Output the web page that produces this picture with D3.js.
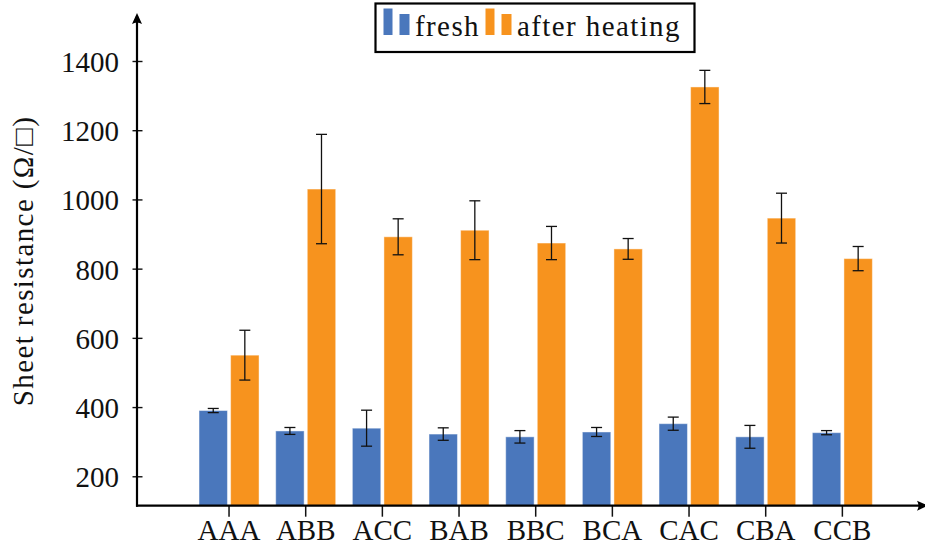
<!DOCTYPE html>
<html>
<head>
<meta charset="utf-8">
<script src="https://cdn.jsdelivr.net/npm/d3@7"></script>
<style>
  html, body { margin: 0; padding: 0; background: #ffffff; }
  svg { display: block; }
  text { font-family: "Liberation Serif", "DejaVu Serif", serif; fill: #111; }
</style>
</head>
<body>
<script>
// ---- data ----
const categories = ["AAA", "ABB", "ACC", "BAB", "BBC", "BCA", "CAC", "CBA", "CCB"];
const seriesNames = ["fresh", "after heating"];
const freshValues = [390, 331, 339, 322, 314, 328, 352, 314, 326];
const freshErrors = [6, 10, 52, 18, 18, 13, 19, 33, 6];
const heatedValues = [550, 1030, 892, 911, 874, 857, 1325, 946, 829];
const heatedErrors = [72, 158, 52, 85, 48, 30, 48, 72, 35];
const yTickValues = [200, 400, 600, 800, 1000, 1200, 1400];
const yLabel = "Sheet resistance (\u03A9/\u25A1)";

const W = 925, H = 559;
const colors = ["#4a77bc", "#f7931e"];

const svg = d3.select("body").append("svg").attr("width", W).attr("height", H);

const axisX = 137;       // y axis position
const axisY = 505.7;     // x axis position

const y = d3.scaleLinear().domain([115, 1400]).range([axisY, 61]);
const x = d3.scaleBand().domain(categories).range([190.7, 880.7]).padding(0);
const xs = d3.scaleBand().domain([0, 1]).range([-30, 30]).paddingInner(0.1);

const rows = categories.map((c, i) => ({
  cat: c,
  vals: [
    { s: 0, v: freshValues[i], e: freshErrors[i] },
    { s: 1, v: heatedValues[i], e: heatedErrors[i] }
  ]
}));

// bars
const groups = svg.append("g").selectAll("g").data(rows).join("g")
  .attr("transform", d => `translate(${x(d.cat) + x.bandwidth() / 2},0)`);

groups.selectAll("rect").data(d => d.vals).join("rect")
  .attr("x", d => xs(d.s))
  .attr("width", xs.bandwidth())
  .attr("y", d => y(d.v))
  .attr("height", d => axisY - y(d.v))
  .attr("fill", d => colors[d.s])
  .attr("stroke", "rgba(255,255,255,0.45)")
  .attr("stroke-width", 1);

// error bars
const eb = groups.selectAll("g.err").data(d => d.vals).join("g").attr("class", "err")
  .attr("stroke", "#111").attr("stroke-width", 1.3);
eb.append("line")
  .attr("x1", d => xs(d.s) + xs.bandwidth() / 2).attr("x2", d => xs(d.s) + xs.bandwidth() / 2)
  .attr("y1", d => y(d.v + d.e)).attr("y2", d => y(d.v - d.e));
eb.append("line")
  .attr("x1", d => xs(d.s) + xs.bandwidth() / 2 - 5.5).attr("x2", d => xs(d.s) + xs.bandwidth() / 2 + 5.5)
  .attr("y1", d => y(d.v + d.e)).attr("y2", d => y(d.v + d.e));
eb.append("line")
  .attr("x1", d => xs(d.s) + xs.bandwidth() / 2 - 5.5).attr("x2", d => xs(d.s) + xs.bandwidth() / 2 + 5.5)
  .attr("y1", d => y(d.v - d.e)).attr("y2", d => y(d.v - d.e));

// y axis
const yAxis = svg.append("g").attr("transform", `translate(${axisX},0)`)
  .call(d3.axisLeft(y).tickValues(yTickValues).tickSize(0).tickPadding(18).tickFormat(d3.format("d")));
yAxis.select(".domain").remove();
yAxis.selectAll("text").attr("font-size", 29).attr("font-family", "Liberation Serif").attr("fill", "#111")
  .attr("dy", "0.36em");
yAxis.selectAll(".tick").append("line").attr("x1", -4.5).attr("x2", 5.5)
  .attr("stroke", "#111").attr("stroke-width", 1.4);

// x axis
const xAxis = svg.append("g").attr("transform", `translate(0,${axisY})`)
  .call(d3.axisBottom(x).tickSize(0).tickPadding(24));
xAxis.select(".domain").remove();
xAxis.selectAll("text").attr("font-size", 29).attr("font-family", "Liberation Serif").attr("fill", "#111")
  .attr("dy", "0.35em");
xAxis.selectAll(".tick").append("line").attr("y1", 0).attr("y2", 11)
  .attr("stroke", "#111").attr("stroke-width", 1.5);

// axis lines with arrows
svg.append("line").attr("x1", axisX).attr("x2", axisX).attr("y1", axisY + 1).attr("y2", 16)
  .attr("stroke", "#000").attr("stroke-width", 2.2);
svg.append("line").attr("x1", axisX - 1).attr("x2", 925).attr("y1", axisY).attr("y2", axisY)
  .attr("stroke", "#000").attr("stroke-width", 2.2);
svg.append("path")
  .attr("d", `M${axisX},13 L${axisX + 5},24 Q${axisX},21 ${axisX - 5},24 Z`)
  .attr("fill", "#000");
svg.append("path")
  .attr("d", `M${928},${axisY} L${917},${axisY - 5} Q${920},${axisY} ${917},${axisY + 5} Z`)
  .attr("fill", "#000");

// y label
svg.append("text")
  .attr("transform", `translate(33,${(112.7 + 409.3) / 2}) rotate(-90)`)
  .attr("text-anchor", "middle")
  .attr("font-size", 29)
  .attr("letter-spacing", "1.4px")
  .text(yLabel);

// legend
const lg = svg.append("g");
lg.append("rect").attr("x", 375.5).attr("y", 3.5).attr("width", 319).attr("height", 48.5)
  .attr("fill", "#fff").attr("stroke", "#000").attr("stroke-width", 2.2);
const legendItems = [
  { name: seriesNames[0], c: colors[0], x0: 383.5, tx: 415 },
  { name: seriesNames[1], c: colors[1], x0: 485.5, tx: 517 }
];
legendItems.forEach(it => {
  lg.append("rect").attr("x", it.x0).attr("y", 8.5).attr("width", 9).attr("height", 26.5).attr("fill", it.c);
  lg.append("rect").attr("x", it.x0 + 16).attr("y", 14).attr("width", 10).attr("height", 21).attr("fill", it.c);
  lg.append("text").attr("x", it.tx).attr("y", 35.5).attr("font-size", 29)
    .attr("letter-spacing", "1.4px").text(it.name);
});
</script>
</body>
</html>
